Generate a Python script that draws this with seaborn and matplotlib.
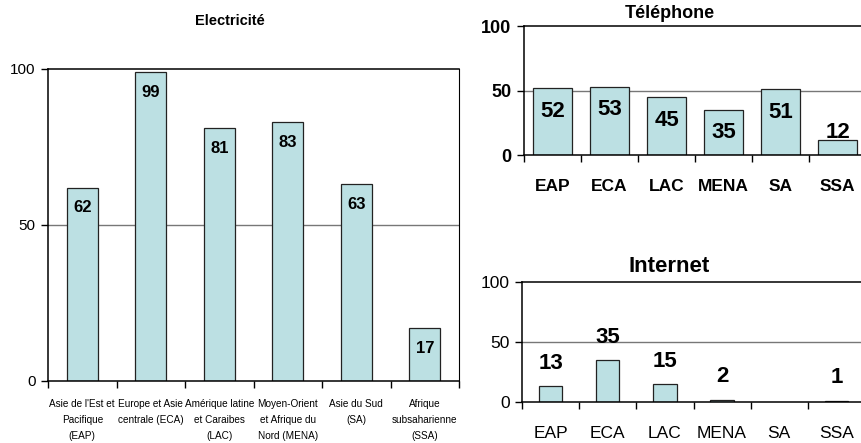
import numpy as np
import pandas as pd
import matplotlib
matplotlib.use("Agg")
import matplotlib.pyplot as plt
import seaborn as sns

sns.set_style("white")
plt.rcParams['font.family'] = ['Liberation Sans', 'DejaVu Sans']
plt.rcParams['text.color'] = 'black'
plt.rcParams['xtick.color'] = 'black'
plt.rcParams['ytick.color'] = 'black'

# --- data ---
elec_labels = ["Asie de l'Est et\nPacifique\n(EAP)", "Europe et Asie\ncentrale (ECA)",
               "Amérique latine\net Caraibes\n(LAC)", "Moyen-Orient\net Afrique du\nNord (MENA)",
               "Asie du Sud\n(SA)", "Afrique\nsubsaharienne\n(SSA)"]
elec_values = [62, 99, 81, 83, 63, 17]

regions = ["EAP", "ECA", "LAC", "MENA", "SA", "SSA"]
phone_values = [52, 53, 45, 35, 51, 12]
internet_values = [13, 35, 15, 2, np.nan, 1]

BAR = "#bce0e3"
EDGE = "#222222"


def style_axes(ax, ylabel_kw, box_right=True):
    ax.set_ylim(0, 100)
    ax.set_xlim(-0.5, 5.5)
    ax.set_yticks([0, 50, 100])
    ax.axhline(50, color="#777777", lw=1, zorder=0)
    for s in ["left", "bottom", "top"]:
        ax.spines[s].set_visible(True)
        ax.spines[s].set_color("black")
        ax.spines[s].set_linewidth(1.1)
    ax.spines["right"].set_visible(box_right)
    ax.spines["right"].set_color("black")
    ax.set_xticks(np.arange(-0.5, 6), minor=True)
    ax.tick_params(axis="x", which="minor", length=5, width=1, color="black", direction="out", bottom=True)
    ax.tick_params(axis="y", length=5, width=1, color="black", direction="out", left=True, pad=4)
    ax.tick_params(axis="x", which="major", length=0)
    ax.set_xlabel("")
    ax.set_ylabel("")
    for t in ax.get_yticklabels():
        t.set(color="black", **ylabel_kw)


fig = plt.figure(figsize=(8.62, 4.43), dpi=100)

# --- Electricité ---
ax1 = fig.add_axes([0.0557, 0.140, 0.4768, 0.7043])
df1 = pd.DataFrame({"cat": elec_labels, "val": elec_values})
sns.barplot(data=df1, x="cat", y="val", order=elec_labels, color=BAR, saturation=1,
            width=0.45, edgecolor=EDGE, linewidth=0.9, ax=ax1)
style_axes(ax1, dict(fontsize=11))
ax1.set_xticks(range(6))
ax1.set_xticklabels(elec_labels, fontsize=7.2, linespacing=1.75, va="top", color="black",
                    family=['Liberation Sans Narrow', 'Liberation Sans'])
ax1.tick_params(axis="x", which="major", pad=13)
for i, v in enumerate(elec_values):
    ax1.text(i, v - 6.5, f"{v}", ha="center", va="center", fontsize=12,
             fontweight="bold", color="black")
fig.text(230 / 862, 1 - 21 / 443, "Electricité", ha="center", va="center",
         fontsize=10.5, fontweight="bold", color="black")

# --- Téléphone ---
ax2 = fig.add_axes([0.6079, 0.6501, 0.3968, 0.2912])
df2 = pd.DataFrame({"cat": regions, "val": phone_values})
sns.barplot(data=df2, x="cat", y="val", order=regions, color=BAR, saturation=1,
            width=0.67, edgecolor=EDGE, linewidth=0.9, ax=ax2)
style_axes(ax2, dict(fontsize=13, fontweight="bold"), box_right=False)
ax2.set_xticks(range(6))
ax2.set_xticklabels(regions, fontsize=12.5, fontweight="bold", color="black")
ax2.tick_params(axis="x", which="major", pad=17)
for i, v in enumerate(phone_values):
    ax2.text(i, max(v - 18, 17.5), f"{v}", ha="center", va="center",
             fontsize=16, fontweight="bold", color="black")
fig.text(670 / 862, 1 - 13 / 443, "Téléphone", ha="center", va="center",
         fontsize=13, fontweight="bold", color="black")

# --- Internet ---
ax3 = fig.add_axes([0.6056, 0.0926, 0.3979, 0.2709])
df3 = pd.DataFrame({"cat": regions, "val": internet_values})
sns.barplot(data=df3, x="cat", y="val", order=regions, color=BAR, saturation=1,
            width=0.41, edgecolor=EDGE, linewidth=0.9, ax=ax3)
style_axes(ax3, dict(fontsize=12.5), box_right=False)
ax3.set_xticks(range(6))
ax3.set_xticklabels(regions, fontsize=12.5, color="black")
ax3.tick_params(axis="x", which="major", pad=17)
for i, v in enumerate(internet_values):
    if not np.isnan(v):
        ax3.text(i, v + 19, f"{v:.0f}", ha="center", va="center",
                 fontsize=16, fontweight="bold", color="black")
fig.text(669 / 862, 1 - 266 / 443, "Internet", ha="center", va="center",
         fontsize=16, fontweight="bold", color="black")

fig.savefig("out.png", dpi=100)
